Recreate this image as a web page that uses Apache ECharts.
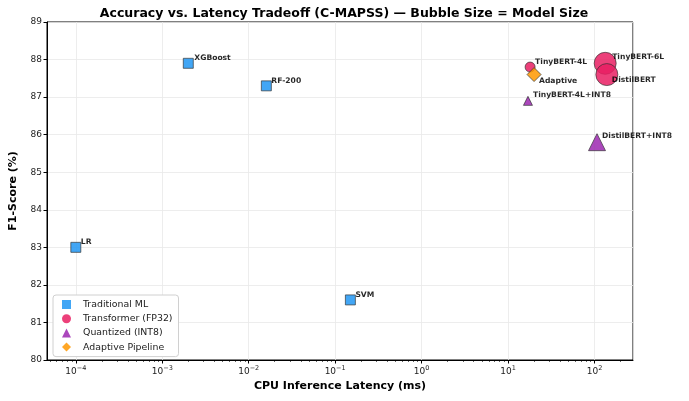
<!DOCTYPE html>
<html>
<head>
<meta charset="utf-8">
<script src="https://cdn.jsdelivr.net/npm/echarts@6/dist/echarts.min.js"></script>
<style>
html,body{margin:0;padding:0;background:#fff;}
#chart{width:689px;height:401px;}
</style>
</head>
<body>
<div id="chart"></div>
<script>
// ---- data ----
const groups = ['Traditional ML', 'Transformer (FP32)', 'Quantized (INT8)', 'Adaptive Pipeline'];

const tradNames   = ['LR', 'XGBoost', 'RF-200', 'SVM'];
const tradLatency = [0.0001, 0.002, 0.016, 0.15];
const tradF1      = [83.0, 87.9, 87.3, 81.6];

const fp32Names   = ['TinyBERT-4L', 'TinyBERT-6L', 'DistilBERT'];
const fp32Latency = [18, 133, 139];
const fp32F1      = [87.8, 87.9, 87.6];

const int8Names   = ['TinyBERT-4L+INT8', 'DistilBERT+INT8'];
const int8Latency = [17, 107];
const int8F1      = [86.9, 85.8];

const adaptNames   = ['Adaptive'];
const adaptLatency = [20];
const adaptF1      = [87.6];

const yTicks = [80, 81, 82, 83, 84, 85, 86, 87, 88, 89];

// ---- styles (bubble size ~ model size) ----
const tradSizes  = [10, 10, 10, 10];
const fp32Sizes  = [10, 22, 22];
const int8Sizes  = [9, 17];
const adaptSizes = [14];

const tradOffsets  = [[5, -5], [6, -5], [5, -5], [5, -5]];
const fp32Offsets  = [[5, -5], [7, -6], [5, 5]];
const int8Offsets  = [[5, -6], [5, -6]];
const adaptOffsets = [[5, 6]];

const colors = ['#2196F3', '#E91E63', '#9C27B0', '#FF9800'];
const symbols = ['rect', 'circle', 'triangle', 'diamond'];
const FONT = 'DejaVu Sans';

function makeData(names, xs, ys, sizes, offsets) {
  return names.map((n, i) => ({
    name: n,
    value: [xs[i], ys[i]],
    symbolSize: sizes[i],
    label: {
      show: true,
      formatter: n,
      position: 'inside',
      align: 'left',
      verticalAlign: 'middle',
      offset: offsets[i],
      fontSize: 7.6,
      fontWeight: 'bold',
      color: '#000',
      fontFamily: FONT
    }
  }));
}

const seriesData = [
  makeData(tradNames, tradLatency, tradF1, tradSizes, tradOffsets),
  makeData(fp32Names, fp32Latency, fp32F1, fp32Sizes, fp32Offsets),
  makeData(int8Names, int8Latency, int8F1, int8Sizes, int8Offsets),
  makeData(adaptNames, adaptLatency, adaptF1, adaptSizes, adaptOffsets)
];

const xMin = 4.64e-5, xMax = 279;
const minorTicks = [];
for (let e = -5; e <= 2; e++) {
  for (let k = 2; k <= 9; k++) {
    const v = k * Math.pow(10, e);
    if (v > xMin && v < xMax) minorTicks.push(v);
  }
}

function powLabel(v) {
  const l = Math.log10(v);
  const r = Math.round(l);
  if (Math.abs(l - r) > 1e-6) return '';
  const exp = r < 0 ? '\u2212' + Math.abs(r) : String(r);
  return '10{sup|' + exp + '}';
}

const chart = echarts.init(document.getElementById('chart'), null, {renderer: 'canvas'});
chart.setOption({
  animation: false,
  backgroundColor: '#fff',
  title: {
    text: 'Accuracy vs. Latency Tradeoff (C-MAPSS) \u2014 Bubble Size = Model Size',
    left: 339, textAlign: 'center', top: 2,
    textStyle: {fontFamily: FONT, fontSize: 12.5, fontWeight: 'bold', color: '#000'}
  },
  grid: {left: 45, right: 56, top: 22, bottom: 41, show: true, borderColor: '#000', borderWidth: 1},
  legend: {
    orient: 'vertical', left: 53, top: 295,
    data: groups.map((g, i) => ({name: g, icon: symbols[i]})),
    itemWidth: 9, itemHeight: 9, itemGap: 5.2,
    padding: [5, 6, 5, 9],
    backgroundColor: '#fff', borderColor: '#d0d0d0', borderWidth: 1, borderRadius: 3,
    textStyle: {fontFamily: FONT, fontSize: 9.4, color: '#222', padding: [0, 0, 0, 7]},
    itemStyle: {borderWidth: 0}
  },
  xAxis: [{
    type: 'log', logBase: 10, min: xMin, max: xMax,
    name: 'CPU Inference Latency (ms)', nameLocation: 'middle', nameGap: 21,
    nameTextStyle: {fontFamily: FONT, fontSize: 11, fontWeight: 'bold', color: '#000'},
    axisLine: {show: true, lineStyle: {color: '#000', width: 1}},
    axisTick: {show: true, length: 3.5, lineStyle: {color: '#000'}},
    axisLabel: {
      fontFamily: FONT, fontSize: 9, color: '#222', margin: 5,
      showMinLabel: false, showMaxLabel: false,
      formatter: powLabel,
      rich: {sup: {fontSize: 6.5, verticalAlign: 'top', padding: [0, 0, 6, 0], fontFamily: FONT, color: '#222'}}
    },
    splitLine: {show: true, lineStyle: {color: '#e8e8e8', width: 0.8}},
    minorTick: {show: false}
  }, {
    type: 'log', logBase: 10, min: xMin, max: xMax, position: 'bottom',
    axisLine: {show: false},
    axisLabel: {show: false},
    splitLine: {show: false},
    axisTick: {show: true, length: 2, customValues: minorTicks, lineStyle: {color: '#000', width: 0.6}}
  }],
  yAxis: {
    type: 'value', min: 80, max: 89, interval: 1,
    name: 'F1-Score (%)', nameLocation: 'middle', nameGap: 28,
    nameTextStyle: {fontFamily: FONT, fontSize: 11, fontWeight: 'bold', color: '#000'},
    axisLine: {show: true, lineStyle: {color: '#000', width: 1}},
    axisTick: {show: true, length: 3.5, lineStyle: {color: '#000'}},
    axisLabel: {fontFamily: FONT, fontSize: 9, color: '#222', margin: 5,
      formatter: v => yTicks.includes(v) ? String(v) : ''},
    splitLine: {show: true, lineStyle: {color: '#e8e8e8', width: 0.8}}
  },
  series: groups.map((g, i) => ({
    name: g, type: 'scatter', xAxisIndex: 0,
    symbol: symbols[i],
    data: seriesData[i],
    itemStyle: {color: colors[i], opacity: 0.85, borderColor: '#333', borderWidth: 0.8},
    emphasis: {disabled: true}
  }))
});
</script>
</body>
</html>
